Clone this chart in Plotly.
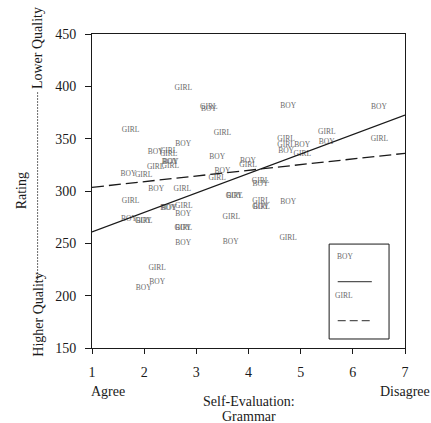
import plotly.graph_objects as go

# Self-evaluation (1 = Agree ... 7 = Disagree) and rating for each student
boy_x = [3.24, 2.75, 2.22, 3.40, 2.49, 2.51, 1.70, 3.50, 3.99, 2.23,
         4.76, 6.50, 5.03, 4.72, 5.50, 4.23, 3.73, 2.46, 2.48, 2.75,
         1.71, 1.99, 2.75, 2.75, 3.66, 2.25, 1.99, 4.24, 4.76]
boy_y = [378, 345, 337, 332, 328, 328, 316, 319, 329, 302,
         381, 380, 344, 338.5, 346.5, 307, 295, 284, 284, 278,
         273, 271, 265, 250, 251, 213, 207, 284.5, 289]

girl_x = [2.75, 3.24, 1.74, 3.50, 2.47, 2.47, 2.22, 2.50, 1.99, 3.40,
          3.99, 2.73, 5.50, 6.51, 4.72, 4.72, 5.03, 4.23, 1.74, 3.73,
          2.76, 3.67, 1.99, 2.75, 2.25, 4.24, 4.24, 4.76]
girl_y = [398, 380, 358, 355, 338, 335.5, 323, 324, 315, 312,
          325, 302, 356, 350, 349.5, 344, 335, 309, 290.5, 295,
          286, 275.5, 271, 265, 226, 290.5, 284.5, 255]

# Fitted regression lines: rating = intercept + slope * self-evaluation
boy_fit = {"intercept": 242.2, "slope": 18.63}
girl_fit = {"intercept": 298.1, "slope": 5.42}
fit_x = [1, 7]

x_ticks = [1, 2, 3, 4, 5, 6, 7]
y_ticks = [150, 200, 250, 300, 350, 400, 450]

SERIF = "Liberation Serif"
INK = "#1a1a1a"
LABEL = "#6a6a6a"

fig = go.Figure()

fig.add_trace(go.Scatter(
    x=boy_x, y=boy_y, mode="text", text=["BOY"] * len(boy_x),
    textposition="middle center",
    textfont=dict(family=SERIF, size=7.5, color=LABEL),
    hoverinfo="skip", showlegend=False))
fig.add_trace(go.Scatter(
    x=girl_x, y=girl_y, mode="text", text=["GIRL"] * len(girl_x),
    textposition="middle center",
    textfont=dict(family=SERIF, size=7.5, color=LABEL),
    hoverinfo="skip", showlegend=False))

fig.add_trace(go.Scatter(
    x=fit_x, y=[boy_fit["intercept"] + boy_fit["slope"] * v for v in fit_x],
    mode="lines", line=dict(color=INK, width=1.3),
    hoverinfo="skip", showlegend=False))
fig.add_trace(go.Scatter(
    x=fit_x, y=[girl_fit["intercept"] + girl_fit["slope"] * v for v in fit_x],
    mode="lines", line=dict(color=INK, width=1.3, dash="12px,5px"),
    hoverinfo="skip", showlegend=False))

axis_common = dict(
    showgrid=False, zeroline=False, showline=True, linecolor=INK, linewidth=1,
    mirror=True, ticks="outside", tickcolor=INK, tickwidth=1,
    tickfont=dict(family=SERIF, size=14, color=INK))

fig.update_xaxes(range=[1, 7], tickvals=x_ticks, ticklen=5,
                 ticklabelstandoff=6, **axis_common)
fig.update_yaxes(range=[150, 450], tickvals=y_ticks, ticklen=6,
                 ticklabelstandoff=6, **axis_common)

ann_font = dict(family=SERIF, size=14, color=INK)
annotations = [
    dict(text="Agree", x=-0.011, y=-0.137, xanchor="left", yanchor="middle"),
    dict(text="Disagree", x=0.913, y=-0.137, xanchor="left", yanchor="middle"),
    dict(text="Self-Evaluation:", x=0.5, y=-0.171, xanchor="center", yanchor="middle"),
    dict(text="Grammar", x=0.5, y=-0.217, xanchor="center", yanchor="middle"),
    dict(text="Rating", x=-0.2258, y=0.5, xanchor="center", yanchor="middle", textangle=-90),
    dict(text="Lower Quality", x=-0.1738, y=0.9538, xanchor="center", yanchor="middle", textangle=-90),
    dict(text="Higher Quality", x=-0.1738, y=0.105, xanchor="center", yanchor="middle", textangle=-90),
]
for a in annotations:
    fig.add_annotation(xref="paper", yref="paper", showarrow=False, font=ann_font, **a)

# Key box in the lower right corner
key_font = dict(family=SERIF, size=7.5, color=LABEL)
fig.add_annotation(xref="paper", yref="paper", x=0.8405, y=0.2717, text="BOY",
                   showarrow=False, font=key_font)
fig.add_annotation(xref="paper", yref="paper", x=0.8405, y=0.1475, text="GIRL",
                   showarrow=False, font=key_font)

shapes = [
    dict(type="rect", xref="paper", yref="paper", x0=0.7576, x1=0.949, y0=0.0287, y1=0.331,
         line=dict(color=INK, width=1), fillcolor="white", layer="below"),
    dict(type="line", xref="paper", yref="paper", x0=0.785, x1=0.894, y0=0.2111, y1=0.2111,
         line=dict(color="#555555", width=1.3)),
    dict(type="line", xref="paper", yref="paper", x0=0.785, x1=0.894, y0=0.0869, y1=0.0869,
         line=dict(color="#555555", width=1.3, dash="8px,4px")),
    # connector between the two rating-quality labels
    dict(type="line", xref="paper", yref="paper", x0=-0.1738, x1=-0.1738, y0=0.207, y1=0.815,
         line=dict(color="#444444", width=0.8, dash="2px,1px")),
]
fig.update_layout(shapes=shapes)

fig.update_layout(
    width=431, height=423,
    margin=dict(l=92, r=26, t=34, b=75),
    paper_bgcolor="white", plot_bgcolor="white",
    showlegend=False,
)

fig.write_html("out.html")
